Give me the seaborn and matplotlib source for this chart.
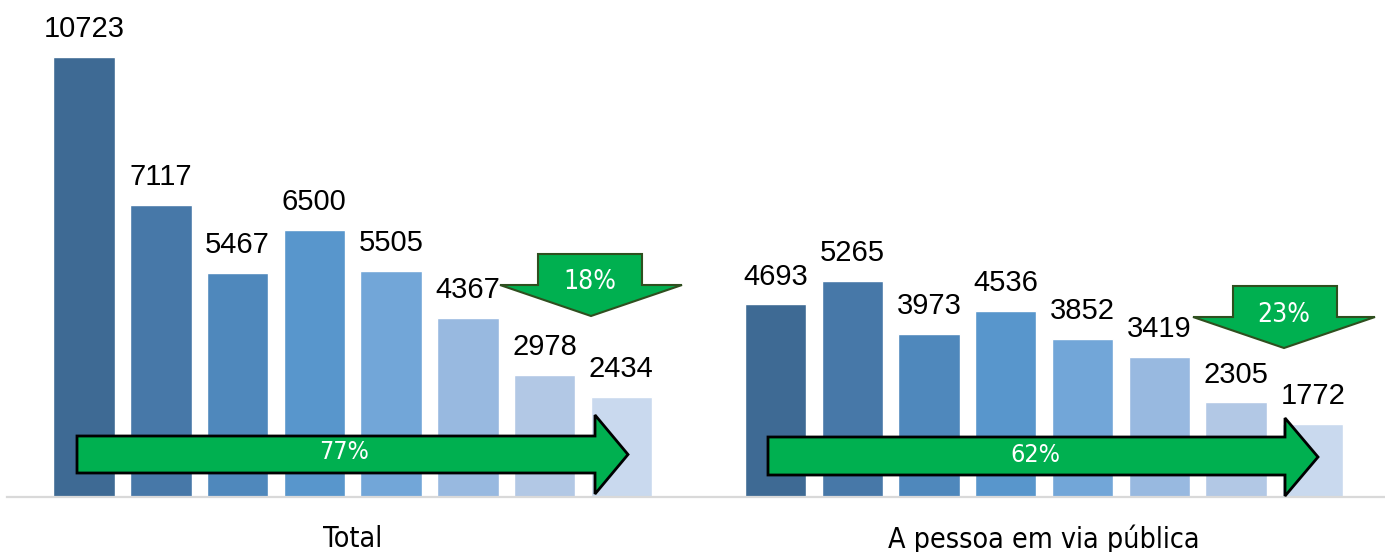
import matplotlib
matplotlib.use("Agg")
import matplotlib.pyplot as plt
from matplotlib.patches import Polygon
import pandas as pd
import seaborn as sns

# data
groups = ["Total", "A pessoa em via pública"]
periods = ["P1", "P2", "P3", "P4", "P5", "P6", "P7", "P8"]
total_vals = [10723, 7117, 5467, 6500, 5505, 4367, 2978, 2434]
via_publica_vals = [4693, 5265, 3973, 4536, 3852, 3419, 2305, 1772]
bar_colors = ["#3E6A94", "#4778A8", "#4F88BC", "#5896CC",
              "#72A6D8", "#98B9E0", "#B2C8E5", "#C9D9EE"]
pct_long = ["77%", "62%"]
pct_short = ["18%", "23%"]

W, H = 1385, 552
NARROW = dict(family="DejaVu Sans", stretch="condensed")

rows = []
for g, vals in zip(groups, [total_vals, via_publica_vals]):
    for p, v in zip(periods, vals):
        rows.append({"grupo": g, "periodo": p, "valor": v})
df = pd.DataFrame(rows)

sns.set_style("white")
plt.rcParams["font.family"] = ["Liberation Sans", "DejaVu Sans"]

fig = plt.figure(figsize=(W / 100, H / 100), dpi=100)
ax = fig.add_axes([7 / W, 55 / H, 1 - 7 / W, 1 - 55 / H])

sns.barplot(data=df, x="grupo", y="valor", hue="periodo", order=groups,
            hue_order=periods, palette=bar_colors, saturation=1,
            width=0.888, gap=0.2, legend=False, errorbar=None, ax=ax)

for cont in ax.containers:
    ax.bar_label(cont, fmt="%d", padding=10, fontsize=21, color="black")

ax.set_xlim(-0.5, 1.493)
ax.set_ylim(0, 10723 / 440 * 497)
ax.set_xlabel("")
ax.set_ylabel("")
ax.set_yticks([])
ax.tick_params(axis="x", length=0, pad=20, colors="black")
for lbl in ax.get_xticklabels():
    lbl.set_fontsize(20.5)
    lbl.set_family(NARROW["family"])
    lbl.set_stretch(NARROW["stretch"])
for s in ["top", "left", "right"]:
    ax.spines[s].set_visible(False)
ax.spines["bottom"].set_color("#D9D9D9")
ax.spines["bottom"].set_linewidth(1.6)


def px(pts):
    return [(x / W, 1 - y / H) for x, y in pts]


def right_arrow(x0, x1, xt, y0, y1, hy0, hy1):
    ym = (hy0 + hy1) / 2
    return px([(x0, y0), (x1, y0), (x1, hy0), (xt, ym), (x1, hy1),
               (x1, y1), (x0, y1)])


def down_arrow(sx0, sx1, top, base, hx0, hx1, tip):
    xm = (hx0 + hx1) / 2
    return px([(sx0, top), (sx1, top), (sx1, base), (hx1, base), (xm, tip),
               (hx0, base), (sx0, base)])


long_arrows = [
    (right_arrow(77, 595, 628, 436, 473, 415, 494), (344, 452)),
    (right_arrow(768, 1285, 1318, 437, 475, 418, 496), (1035, 455)),
]
short_arrows = [
    (down_arrow(538, 642, 254, 285, 500, 682, 316), (590, 282)),
    (down_arrow(1233, 1337, 286, 317, 1193, 1375, 348), (1284, 315)),
]

for (poly, (tx, ty)), txt in zip(long_arrows, pct_long):
    fig.patches.append(Polygon(poly, closed=True, transform=fig.transFigure,
                               facecolor="#00B050", edgecolor="black",
                               linewidth=2, zorder=5))
    fig.text(tx / W, 1 - ty / H, txt, ha="center", va="center", color="white",
             fontsize=18, zorder=6, **NARROW)

for (poly, (tx, ty)), txt in zip(short_arrows, pct_short):
    fig.patches.append(Polygon(poly, closed=True, transform=fig.transFigure,
                               facecolor="#00B050", edgecolor="#2F4F1F",
                               linewidth=1.5, zorder=5))
    fig.text(tx / W, 1 - ty / H, txt, ha="center", va="center", color="white",
             fontsize=19, zorder=6, **NARROW)

fig.savefig("out.png", dpi=100)
